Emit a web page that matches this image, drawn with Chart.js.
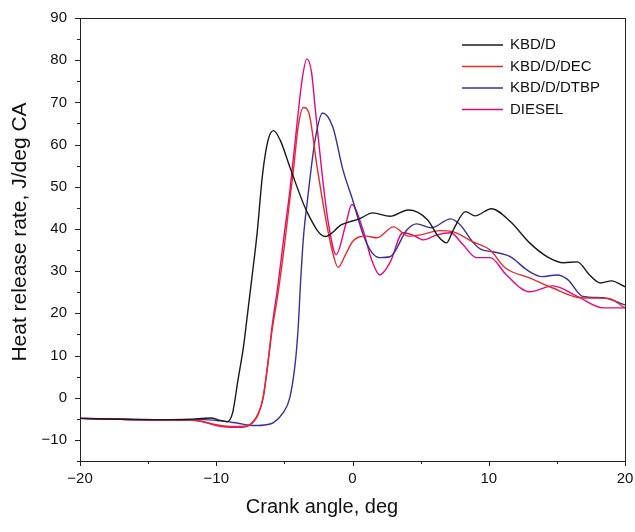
<!DOCTYPE html>
<html>
<head>
<meta charset="utf-8">
<script src="https://cdn.jsdelivr.net/npm/chart.js@4.4.1/dist/chart.umd.min.js"></script>
<style>
  html, body { margin: 0; padding: 0; background: #fff; }
  canvas { display: block; }
</style>
</head>
<body>
<canvas id="c" width="635" height="532"></canvas>
<script>
// crank angle (deg) and heat release rate (J/deg CA)
const kbdAngle = [-20, -17, -14, -12, -10.4, -9.8, -9.2, -8.8, -8.4, -8.0, -7.7, -7.4, -7.0, -6.6, -6.2, -5.8, -5.3, -4.6, -3.3, -2.0, -0.8, 0.5, 1.5, 2.75, 4.1, 5.5, 6.3, 6.9, 7.4, 8.3, 9.0, 10.2, 11.6, 13.0, 14.3, 15.5, 16.5, 17.4, 18.2, 19.0, 20];
const kbdRate = [-4.9, -5.1, -5.2, -5.1, -4.8, -5.3, -5.7, -3.6, 4.3, 12.1, 20, 28, 39, 53, 61, 63.3, 61, 54.7, 43.8, 38.2, 41, 42.4, 43.8, 43, 44.5, 42.2, 38.2, 36.7, 39.8, 44.1, 43.1, 44.8, 41.7, 36.7, 33.4, 32, 32.2, 29.1, 27.2, 27.7, 26.3];

const decAngle = [-20, -17, -14, -12, -11, -10, -9, -8.2, -7.5, -6.9, -6.55, -6.2, -5.9, -5.5, -5.0, -4.6, -4.3, -4.0, -3.6, -3.2, -2.6, -2.0, -1.5, -1.06, -0.5, 0.05, 1.0, 1.8, 3.0, 4.1, 5.0, 6.4, 7.4, 8.8, 10.1, 11.2, 13.0, 14.7, 16.7, 18.0, 18.8, 20];
const decRate = [-4.9, -5.1, -5.3, -5.3, -5.6, -6.4, -6.8, -6.8, -6.3, -3.6, 0, 8.3, 16, 24, 36, 47, 55, 64, 68.8, 67.5, 54.7, 43, 35, 30.9, 34, 37.2, 38.3, 37.9, 40.5, 38.3, 38.6, 39.6, 39.3, 37, 35, 30.8, 28.4, 26, 23.7, 23.6, 23.5, 21.3];

const dtbpAngle = [-20, -17, -14, -11, -9.7, -8.5, -7.2, -6.3, -5.8, -5.1, -4.6, -4.2, -4.0, -3.8, -3.6, -3.3, -2.75, -2.2, -1.45, -0.7, 0.0, 0.8, 1.4, 2.0, 2.75, 4.0, 4.7, 5.8, 7.2, 7.9, 8.8, 9.4, 10.3, 11.6, 12.8, 13.9, 15.0, 15.8, 16.9, 18.4, 20];
const dtbpRate = [-4.9, -5.1, -5.2, -5.2, -5.5, -6.0, -6.6, -6.4, -5.9, -3.6, 0, 8.3, 16, 28, 38, 47, 61, 67.5, 64.2, 54, 47, 38.5, 34.5, 33.2, 33.4, 39.8, 41.2, 40.3, 42.4, 41, 37, 35.2, 34.6, 33.4, 30.3, 28.7, 29.1, 28.0, 24, 23.7, 22];

const dieselAngle = [-20, -17, -14, -12, -11, -10, -9, -8.2, -7.5, -6.9, -6.55, -6.2, -5.9, -5.5, -5.0, -4.6, -4.07, -3.7, -3.35, -3.0, -2.75, -2.24, -1.8, -1.2, -0.5, -0.05, 0.77, 1.4, 2.0, 2.75, 3.7, 4.4, 5.2, 6.2, 7.2, 8.1, 9.1, 10.1, 11.3, 13.0, 14.7, 16.5, 18.4, 20];
const dieselRate = [-4.9, -5.1, -5.3, -5.3, -5.7, -6.6, -7.0, -7.0, -6.4, -3.8, 0.3, 8.5, 17, 26, 39, 49, 65, 75.4, 80.3, 77, 69, 53.3, 42, 33.9, 41, 45.8, 39.8, 32.7, 29.1, 32, 39.1, 38.6, 37.4, 38.6, 39.1, 36.3, 33.2, 33.2, 29.1, 25.1, 26.5, 24, 21.3, 21.3];

const seriesNames = ['KBD/D', 'KBD/D/DEC', 'KBD/D/DTBP', 'DIESEL'];
const seriesColors = ['#1a1a1a', '#e52a2c', '#3a3096', '#e4087e'];

const pairs = (xs, ys) => xs.map((x, i) => ({ x: x, y: ys[i] }));
const fmt = (v) => (v < 0 ? '\u2212' + Math.abs(v) : String(v));
const FONT = '"Liberation Sans", Arial, sans-serif';

const allData = [
  pairs(kbdAngle, kbdRate),
  pairs(decAngle, decRate),
  pairs(dtbpAngle, dtbpRate),
  pairs(dieselAngle, dieselRate),
];

// frame, tick marks, legend and axis titles
const decorations = {
  id: 'decorations',
  afterDraw(chart) {
    const ctx = chart.ctx;
    const a = chart.chartArea;
    const xs = chart.scales.x;
    const ys = chart.scales.y;
    ctx.save();
    ctx.strokeStyle = '#222';
    ctx.lineWidth = 1;
    ctx.strokeRect(a.left + 0.5, a.top + 0.5, a.right - a.left, a.bottom - a.top);

    ctx.beginPath();
    xs.ticks.forEach((t) => {
      const px = Math.round(xs.getPixelForValue(t.value)) + 0.5;
      const len = t.value % 10 === 0 ? 5 : 3;
      ctx.moveTo(px, a.bottom);
      ctx.lineTo(px, a.bottom + len);
    });
    ys.ticks.forEach((t) => {
      const py = Math.round(ys.getPixelForValue(t.value)) + 0.5;
      const len = t.value % 10 === 0 ? 5 : 3;
      ctx.moveTo(a.left, py);
      ctx.lineTo(a.left - len, py);
    });
    ctx.stroke();

    // legend
    ctx.font = '15px ' + FONT;
    ctx.textBaseline = 'middle';
    ctx.textAlign = 'left';
    seriesNames.forEach((name, i) => {
      const y = 45 + i * 21.5;
      ctx.strokeStyle = seriesColors[i];
      ctx.lineWidth = 1.4;
      ctx.beginPath();
      ctx.moveTo(462, y);
      ctx.lineTo(503, y);
      ctx.stroke();
      ctx.fillStyle = '#111';
      ctx.fillText(name, 510, y);
    });

    // axis titles
    ctx.fillStyle = '#111';
    ctx.textAlign = 'center';
    ctx.font = '20px ' + FONT;
    ctx.fillText('Crank angle, deg', 322, 507);
    ctx.font = '21px ' + FONT;
    ctx.translate(20, 232);
    ctx.rotate(-Math.PI / 2);
    ctx.fillText('Heat release rate, J/deg CA', 0, 0);
    ctx.restore();
  },
};

new Chart(document.getElementById('c').getContext('2d'), {
  type: 'line',
  data: {
    datasets: seriesNames.map((name, i) => ({
      label: name,
      data: allData[i],
      borderColor: seriesColors[i],
      borderWidth: 1.4,
      pointRadius: 0,
      fill: false,
      cubicInterpolationMode: 'monotone',
    })),
  },
  options: {
    responsive: false,
    animation: false,
    layout: { padding: { left: 0, right: 10, top: 18, bottom: 0 } },
    plugins: { legend: { display: false }, tooltip: { enabled: false } },
    scales: {
      x: {
        type: 'linear',
        min: -20,
        max: 20,
        grid: { display: false, drawTicks: false },
        border: { display: false },
        afterFit: (s) => {
          s.height = 71;
          s.paddingLeft = 0;
          s.paddingRight = 0;
        },
        ticks: {
          stepSize: 5,
          autoSkip: false,
          maxRotation: 0,
          padding: 9,
          color: '#111',
          font: { family: FONT, size: 15 },
          callback: (v) => (v % 10 === 0 ? fmt(v) : ''),
        },
      },
      y: {
        min: -15,
        max: 90,
        grid: { display: false, drawTicks: false },
        border: { display: false },
        afterFit: (s) => {
          s.width = 80;
          s.paddingTop = 0;
          s.paddingBottom = 0;
        },
        ticks: {
          stepSize: 5,
          autoSkip: false,
          padding: 13,
          color: '#111',
          font: { family: FONT, size: 15 },
          callback: (v) => (v % 10 === 0 ? fmt(v) : ''),
        },
      },
    },
  },
  plugins: [decorations],
});
</script>
</body>
</html>
